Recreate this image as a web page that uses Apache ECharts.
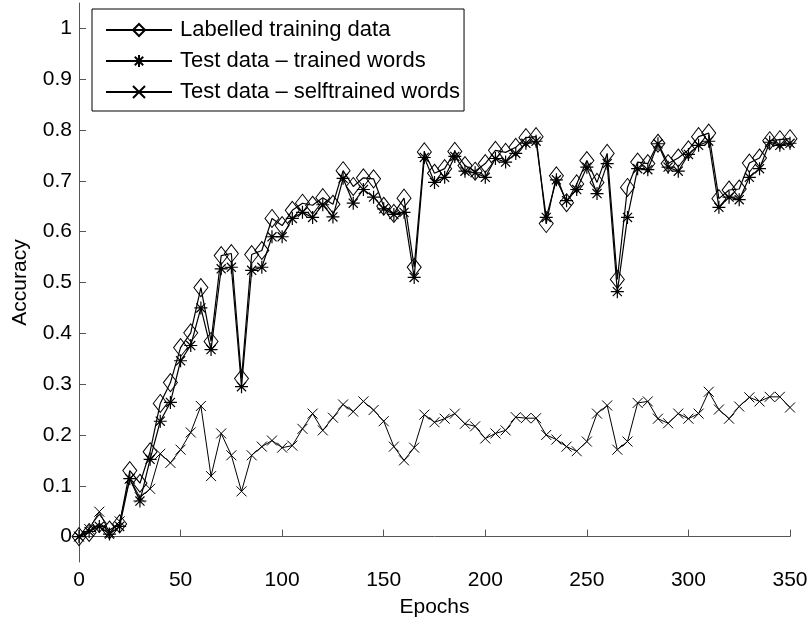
<!DOCTYPE html>
<html>
<head>
<meta charset="utf-8">
<script src="https://cdn.jsdelivr.net/npm/echarts@6/dist/echarts.min.js"></script>
<style>
	html,body{margin:0;padding:0;background:#fff;}
	#chart{width:810px;height:621px;}
</style>
</head>
<body>
<div id="chart"></div>
<script>
	// epochs (x)
	var epochs = [0,5,10,15,20,25,30,35,40,45,50,55,60,65,70,75,80,85,90,95,
		100,105,110,115,120,125,130,135,140,145,150,155,160,165,170,175,180,185,190,195,
		200,205,210,215,220,225,230,235,240,245,250,255,260,265,270,275,280,285,290,295,
		300,305,310,315,320,325,330,335,340,345,350];

	var labelledTraining = [0.000,0.008,0.026,0.013,0.025,0.130,0.105,0.167,0.262,0.303,
		0.372,0.401,0.490,0.384,0.553,0.557,0.311,0.555,0.563,0.626,
		0.612,0.642,0.656,0.652,0.667,0.654,0.720,0.689,0.706,0.704,
		0.650,0.636,0.666,0.530,0.757,0.715,0.724,0.758,0.730,0.719,
		0.734,0.760,0.756,0.766,0.785,0.787,0.616,0.710,0.657,0.694,
		0.740,0.697,0.754,0.506,0.687,0.737,0.734,0.774,0.734,0.745,
		0.761,0.787,0.794,0.665,0.682,0.684,0.735,0.745,0.779,0.781,0.783];

	var testTrained = [0.000,0.010,0.020,0.005,0.020,0.114,0.070,0.152,0.227,0.264,
		0.346,0.376,0.450,0.368,0.527,0.530,0.295,0.524,0.530,0.590,
		0.590,0.626,0.638,0.628,0.653,0.629,0.705,0.656,0.683,0.668,
		0.645,0.634,0.638,0.510,0.746,0.697,0.707,0.748,0.719,0.716,
		0.707,0.744,0.737,0.754,0.774,0.778,0.628,0.702,0.661,0.683,
		0.727,0.675,0.734,0.482,0.628,0.724,0.722,0.773,0.727,0.719,
		0.752,0.770,0.778,0.648,0.668,0.663,0.707,0.724,0.776,0.770,0.774];

	var testSelftrained = [0.000,0.015,0.049,0.008,0.030,0.114,0.077,0.094,0.163,0.145,
		0.171,0.205,0.257,0.119,0.203,0.160,0.089,0.160,0.177,0.189,
		0.175,0.179,0.212,0.242,0.209,0.234,0.260,0.246,0.266,0.249,
		0.227,0.177,0.150,0.175,0.240,0.225,0.232,0.242,0.222,0.217,
		0.193,0.203,0.209,0.235,0.233,0.233,0.200,0.191,0.177,0.168,
		0.187,0.242,0.258,0.171,0.187,0.263,0.266,0.232,0.223,0.242,
		0.232,0.242,0.285,0.250,0.232,0.256,0.274,0.266,0.275,0.275,0.254];

	var yTicks = [0,0.1,0.2,0.3,0.4,0.5,0.6,0.7,0.8,0.9,1];
	var seriesNames = ['Labelled training data','Test data \u2013 trained words','Test data \u2013 selftrained words'];

	function pairs(vals){
		var out = [];
		for(var i=0;i<epochs.length;i++){ out.push([epochs[i], vals[i]]); }
		return out;
	}

	var font = 'Liberation Sans';
	var axisGray = '#555';

	var starPath = 'path://M0,-10L0,10M-10,0L10,0M-7,-7L7,7M-7,7L7,-7';
	var crossPath = 'path://M-10,-10L10,10M-10,10L10,-10';

	var option = {
		animation:false,
		backgroundColor:'#fff',
		textStyle:{fontFamily:font},
		grid:{left:79,right:20,top:3,bottom:59,outerBoundsMode:'none',containLabel:false},
		legend:{
			left:92,
			top:9,
			orient:'vertical',
			data:seriesNames,
			itemWidth:66,
			itemHeight:15,
			itemGap:9,
			padding:[10,4,8,13],
			borderColor:'#000',
			borderWidth:1,
			backgroundColor:'#fff',
			textStyle:{color:'#000',fontSize:22,fontFamily:font,padding:[0,0,0,3]},
			selectedMode:false
		},
		xAxis:{
			type:'value',
			min:0,
			max:350,
			interval:50,
			name:'Epochs',
			nameLocation:'middle',
			nameGap:35,
			nameTextStyle:{color:'#000',fontSize:21,fontFamily:font},
			axisLine:{show:true,lineStyle:{color:axisGray,width:1}},
			axisTick:{show:true,inside:true,length:7,lineStyle:{color:axisGray}},
			axisLabel:{color:'#000',fontSize:21,fontFamily:font,margin:8},
			splitLine:{show:false}
		},
		yAxis:{
			type:'value',
			min:-0.05,
			max:1.05,
			name:'Accuracy',
			nameLocation:'middle',
			nameGap:48,
			nameTextStyle:{color:'#000',fontSize:21,fontFamily:font},
			axisLine:{show:true,lineStyle:{color:axisGray,width:1}},
			axisTick:{show:true,inside:true,length:7,lineStyle:{color:axisGray},customValues:yTicks},
			axisLabel:{color:'#000',fontSize:21,fontFamily:font,margin:7,customValues:yTicks},
			splitLine:{show:false}
		},
		series:[
			{
				name:seriesNames[0],
				type:'line',
				data:pairs(labelledTraining),
				symbol:'diamond',
				symbolSize:[14,18],
				lineStyle:{color:'#000',width:1.2},
				itemStyle:{color:'transparent',borderColor:'#000',borderWidth:1}
			},
			{
				name:seriesNames[1],
				type:'line',
				data:pairs(testTrained),
				symbol:starPath,
				symbolSize:13,
				lineStyle:{color:'#000',width:1.2},
				itemStyle:{color:'transparent',borderColor:'#000',borderWidth:1.2}
			},
			{
				name:seriesNames[2],
				type:'line',
				data:pairs(testSelftrained),
				symbol:crossPath,
				symbolSize:10,
				lineStyle:{color:'#000',width:1},
				itemStyle:{color:'transparent',borderColor:'#000',borderWidth:1}
			}
		]
	};

	var chart = echarts.init(document.getElementById('chart'));
	chart.setOption(option);
</script>
</body>
</html>
